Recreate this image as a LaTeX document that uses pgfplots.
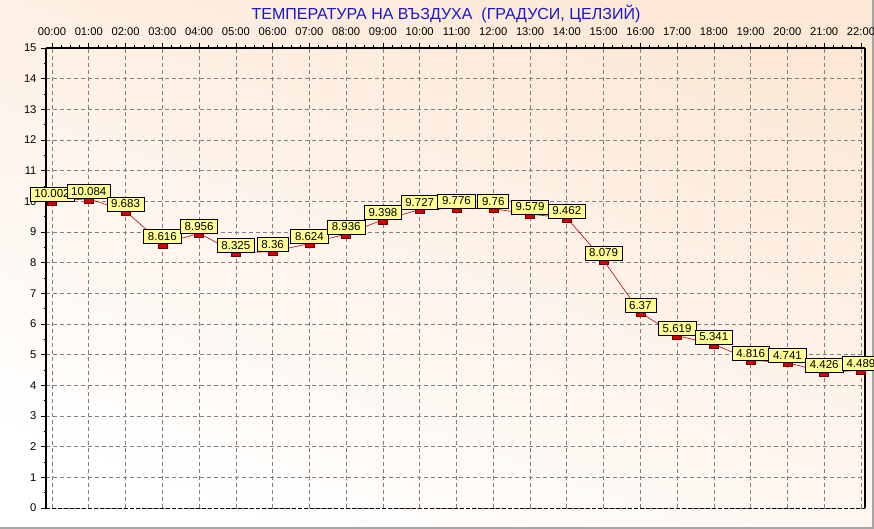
\documentclass[border=0pt]{standalone}
\usepackage{fontspec}
\setmainfont{Liberation Sans}
\usepackage{pgfplots}
\pgfplotsset{compat=1.18}
\definecolor{peach}{RGB}{253,232,214}
\definecolor{boxyellow}{RGB}{255,255,150}
\definecolor{titleblue}{RGB}{25,25,200}
\definecolor{linered}{RGB}{190,0,0}
\definecolor{markred}{RGB}{210,0,0}
\begin{document}
\begin{tikzpicture}[x=1pt,y=1pt]
\useasboundingbox (0,0) rectangle (874,529);
\shade[top color=peach, bottom color=white, shading angle=-20] (0,0) rectangle (874,529);
\fill[gray!70] (872,0) rectangle (874,529);
\fill[gray!70] (0,0) rectangle (874,2);
\node[font=\fontsize{16}{18}\selectfont, text=titleblue] at (446,515) {ТЕМПЕРАТУРА НА ВЪЗДУХА~~(ГРАДУСИ, ЦЕЛЗИЙ)};
\begin{axis}[
  at={(46pt,21pt)}, anchor=south west,
  scale only axis, width=819pt, height=460pt,
  xmin=-0.163, xmax=22.11, ymin=0, ymax=15,
  xtick={0,...,22},
  xticklabels={00:00,01:00,02:00,03:00,04:00,05:00,06:00,07:00,08:00,09:00,10:00,11:00,12:00,13:00,14:00,15:00,16:00,17:00,18:00,19:00,20:00,21:00,22:00},
  ytick={0,...,15},
  xticklabel pos=right, xtick pos=right,
  yticklabel pos=left, ytick pos=left,
  /pgf/number format/assume math mode=true,
  tick label style={font=\fontsize{11.2}{12}\selectfont},
  xticklabel style={yshift=4pt},
  yticklabel style={xshift=-1pt},
  tick align=outside,
  major tick length=5pt,
  minor tick length=2.5pt,
  minor x tick num=3,
  minor y tick num=1,
  tick style={black, line width=0.6pt},
  grid=major,
  major grid style={gray, line width=0.6pt, dash pattern=on 4pt off 3pt},
  axis line style={draw=none},
  clip=false,
  nodes near coords,
  point meta=explicit symbolic,
  every node near coord/.style={anchor=south, fill=boxyellow, draw=black, line width=0.6pt,
     font=\fontsize{11.5}{12}\selectfont, text=black, inner xsep=4.3pt, inner ysep=2.3pt,
     text height=8.4pt, text depth=1pt, yshift=1.2pt},
]
\draw[black, line width=0.8pt, dash pattern=on 4pt off 2pt] (rel axis cs:0,0) -- (rel axis cs:1,0);
\draw[black, line width=1.6pt] (rel axis cs:0,1) -- (rel axis cs:1,1);
\draw[black, line width=1.4pt] (rel axis cs:1,0) -- (rel axis cs:1,1);
\addplot[color=linered, line width=0.6pt, mark=square*, mark size=2.5pt,
  mark options={xscale=1.8, fill=markred, draw=black!45!markred, line width=0.5pt, yshift=-1.5pt}]
coordinates {
(0,10.002) [10.002]
(1,10.084) [10.084]
(2,9.683) [9.683]
(3,8.616) [8.616]
(4,8.956) [8.956]
(5,8.325) [8.325]
(6,8.36) [8.36]
(7,8.624) [8.624]
(8,8.936) [8.936]
(9,9.398) [9.398]
(10,9.727) [9.727]
(11,9.776) [9.776]
(12,9.76) [9.76]
(13,9.579) [9.579]
(14,9.462) [9.462]
(15,8.079) [8.079]
(16,6.37) [6.37]
(17,5.619) [5.619]
(18,5.341) [5.341]
(19,4.816) [4.816]
(20,4.741) [4.741]
(21,4.426) [4.426]
(22,4.489) [4.489]
};
\draw[black, line width=2.6pt] (rel axis cs:0,0) -- (rel axis cs:0,1);
\end{axis}
\end{tikzpicture}
\end{document}
